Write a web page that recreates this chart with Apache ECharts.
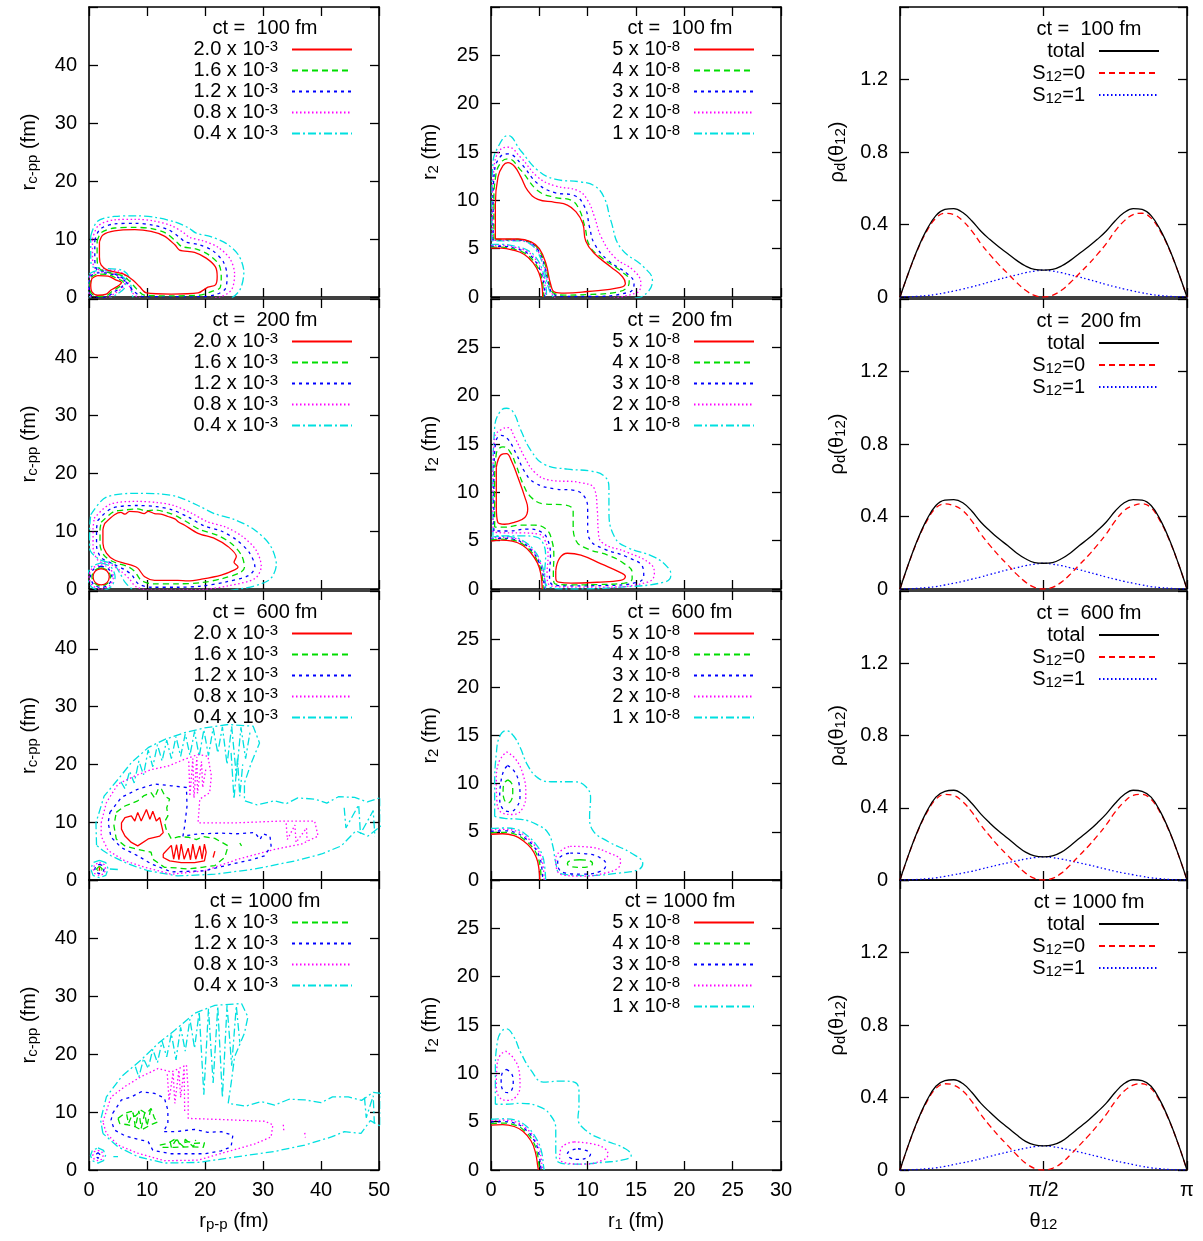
<!DOCTYPE html>
<html>
<head>
<meta charset="utf-8">
<script src="https://cdn.jsdelivr.net/npm/echarts@6/dist/echarts.min.js"></script>
<style>
html, body { margin: 0; padding: 0; background: #fff; }
#chart { width: 1203px; height: 1241px; }
</style>
</head>
<body>
<div id="chart"></div>
<script>
// ---------- data ----------
const timesFm = ['100', '200', '600', '1000'];
const levelsPP = ['2.0 x 10^-3', '1.6 x 10^-3', '1.2 x 10^-3', '0.8 x 10^-3', '0.4 x 10^-3'];
const levelsR = ['5 x 10^-8', '4 x 10^-8', '3 x 10^-8', '2 x 10^-8', '1 x 10^-8'];
const spinNames = ['total', 'S_12=0', 'S_12=1'];
const thetaTicks = [0, 90, 180];
const thetaTickLabels = ['0', 'π/2', 'π'];

// opening angle theta_12 in degrees
const thetaDeg = [0, 5.625, 11.25, 16.875, 22.5, 28.125, 33.75, 39.375, 45, 50.625, 56.25, 61.875, 67.5, 73.125, 78.75, 84.375, 90,
  95.625, 101.25, 106.875, 112.5, 118.125, 123.75, 129.375, 135, 140.625, 146.25, 151.875, 157.5, 163.125, 168.75, 174.375, 180];

const rhoTot100 = [0,0.141,0.269,0.373,0.449,0.483,0.488,0.466,0.421,0.364,0.318,0.277,0.24,0.202,0.171,0.152,0.148,0.152,0.171,0.202,0.24,0.277,0.318,0.364,0.421,0.466,0.488,0.483,0.449,0.373,0.269,0.141,0];
const rhoS0_100 = [0,0.14,0.265,0.365,0.435,0.462,0.455,0.42,0.365,0.295,0.235,0.18,0.13,0.08,0.037,0.009,0,0.009,0.037,0.08,0.13,0.18,0.235,0.295,0.365,0.42,0.455,0.462,0.435,0.365,0.265,0.14,0];
const rhoS1_100 = [0,0.001,0.004,0.008,0.014,0.023,0.033,0.044,0.056,0.069,0.083,0.097,0.11,0.122,0.134,0.143,0.148,0.143,0.134,0.122,0.11,0.097,0.083,0.069,0.056,0.044,0.033,0.023,0.014,0.008,0.004,0.001,0];

const rhoTot200 = [0,0.146,0.277,0.384,0.461,0.49,0.493,0.476,0.43,0.37,0.322,0.278,0.24,0.199,0.167,0.146,0.142,0.146,0.167,0.199,0.24,0.278,0.322,0.37,0.43,0.476,0.493,0.49,0.461,0.384,0.277,0.146,0];
const rhoS0_200 = [0,0.145,0.273,0.376,0.448,0.47,0.46,0.433,0.376,0.304,0.242,0.185,0.134,0.082,0.038,0.009,0,0.009,0.038,0.082,0.134,0.185,0.242,0.304,0.376,0.433,0.46,0.47,0.448,0.376,0.273,0.145,0];
const rhoS1_200 = [0,0.001,0.004,0.008,0.013,0.022,0.032,0.042,0.054,0.066,0.08,0.093,0.106,0.117,0.129,0.137,0.142,0.137,0.129,0.117,0.106,0.093,0.08,0.066,0.054,0.042,0.032,0.022,0.013,0.008,0.004,0.001,0];

const rhoTot600 = [0,0.146,0.275,0.381,0.459,0.491,0.497,0.473,0.425,0.366,0.316,0.271,0.231,0.19,0.154,0.133,0.128,0.133,0.154,0.19,0.231,0.271,0.316,0.366,0.425,0.473,0.497,0.491,0.459,0.381,0.275,0.146,0];
const rhoS0_600 = [0,0.145,0.272,0.374,0.447,0.474,0.468,0.433,0.377,0.306,0.244,0.187,0.136,0.084,0.038,0.009,0,0.009,0.038,0.084,0.136,0.187,0.244,0.306,0.377,0.433,0.468,0.474,0.447,0.374,0.272,0.145,0];
const rhoS1_600 = [0,0.001,0.003,0.007,0.012,0.02,0.029,0.038,0.048,0.06,0.072,0.084,0.095,0.106,0.116,0.124,0.128,0.124,0.116,0.106,0.095,0.084,0.072,0.06,0.048,0.038,0.029,0.02,0.012,0.007,0.003,0.001,0];

const rhoTot1000 = [0,0.147,0.277,0.384,0.462,0.493,0.498,0.477,0.429,0.369,0.32,0.275,0.235,0.194,0.158,0.138,0.133,0.138,0.158,0.194,0.235,0.275,0.32,0.369,0.429,0.477,0.498,0.493,0.462,0.384,0.277,0.147,0];
const rhoS0_1000 = [0,0.146,0.274,0.377,0.45,0.476,0.468,0.436,0.379,0.307,0.245,0.188,0.136,0.084,0.038,0.009,0,0.009,0.038,0.084,0.136,0.188,0.245,0.307,0.379,0.436,0.468,0.476,0.45,0.377,0.274,0.146,0];
const rhoS1_1000 = [0,0.001,0.003,0.007,0.012,0.02,0.03,0.04,0.05,0.062,0.075,0.087,0.099,0.11,0.12,0.129,0.133,0.129,0.12,0.11,0.099,0.087,0.075,0.062,0.05,0.04,0.03,0.02,0.012,0.007,0.003,0.001,0];

// Contours of the density in (r_p-p, r_c-pp), fm. Each piece is a flat x,y list.
const pp100_20 = [
  [1.8,9.5, 2.4,10.7, 4.4,11.4, 7.9,11.6, 10.7,11.3, 13.0,10.5, 14.8,9.0, 15.6,8.1, 18.2,7.7, 20.2,6.7, 21.8,5.2, 22.1,3.5, 21.8,2.1, 20.5,1.7, 18.8,0.7, 14.2,0.5, 9.9,0.7, 8.7,1.8, 7.6,2.9, 5.9,4.0, 3.3,4.6, 2.1,5.5, 1.8,6.9, 1.8,9.5],
  [0.5,3.2, 1.5,3.7, 3.3,3.6, 4.7,2.9, 5.6,2.5, 5.0,1.9, 3.8,1.2, 3.0,0.5, 1.5,0.3, 0.5,0.9, 0.3,2.1, 0.5,3.2]
];
const pp100_16 = [
  [1.4,9.6, 2.1,11.1, 4.4,11.9, 7.9,12.0, 10.8,11.8, 13.3,11.0, 15.0,9.6, 16.0,8.7, 18.4,8.3, 20.6,7.3, 22.4,5.6, 22.8,3.5, 22.6,1.6, 21.0,0.9, 19.0,0.3, 14.2,0.2, 9.6,0.3, 8.2,1.4, 7.2,2.5, 5.8,3.7, 3.2,4.25, 1.7,5.0, 1.4,6.9, 1.4,9.6],
  [0.35,3.4, 1.5,3.95, 3.4,3.85, 4.9,3.15, 5.9,2.6, 5.3,1.8, 4.0,1.0, 3.1,0.25, 1.4,0.1, 0.35,0.7, 0.15,2.1, 0.35,3.4]
];
const pp100_12 = [
  [1.0,9.8, 1.9,11.7, 4.4,12.6, 8.0,12.7, 11.0,12.4, 13.7,11.6, 15.6,10.3, 16.6,9.5, 19.0,9.0, 21.3,8.0, 23.2,6.0, 23.8,3.6, 23.5,1.4, 21.8,0.4, 19.0,0.05, 9.4,0.05, 7.8,0.9, 6.8,2.1, 5.6,3.4, 3.1,4.35, 1.3,4.8, 1.0,6.9, 1.0,9.8],
  [0.25,3.6, 1.5,4.15, 3.5,4.05, 5.1,3.35, 6.2,2.7, 5.6,1.7, 4.2,0.8, 3.2,0.05, 1.4,-0.1, 0.2,0.5, 0.05,2.1, 0.25,3.6]
];
const pp100_08 = [
  [0.6,10.0, 1.6,12.3, 4.4,13.3, 8.0,13.4, 11.2,13.1, 14.2,12.3, 16.3,11.1, 17.3,10.3, 19.6,9.7, 22.2,8.6, 24.3,6.6, 25.1,4.0, 24.6,1.3, 22.6,0.0, 19.0,-0.3, 9.2,-0.3, 7.6,0.6, 6.9,2.0, 6.3,3.6, 5.0,4.5, 3.0,4.65, 1.0,5.0, 0.6,6.9, 0.6,10.0],
  [0.15,3.8, 1.5,4.3, 3.6,4.2, 5.2,3.5, 6.2,2.6, 5.8,1.6, 4.4,0.6, 3.3,-0.1, 1.3,-0.3, 0.1,0.3, -0.05,2.1, 0.15,3.8]
];
const pp100_04 = [
  [0.3,10.5, 1.4,13.0, 4.4,13.9, 8.2,14.0, 11.6,13.7, 14.9,12.9, 17.2,11.9, 18.5,11.0, 21.0,10.4, 23.7,9.2, 25.8,7.2, 26.7,4.3, 26.0,1.2, 24.0,-0.3, 9.0,-0.3, 7.6,0.0, 7.3,1.5, 6.9,3.5, 5.8,4.6, 3.0,4.9, 0.6,5.2, 0.3,6.9, 0.3,10.5],
  [0.05,4.0, 1.5,4.55, 3.7,4.45, 5.4,3.7, 6.4,2.8, 6.1,1.5, 4.7,0.4, 3.4,-0.3, 1.2,-0.5, 0.0,0.2, -0.2,2.1, 0.05,4.0]
];

const pp200_20 = [
  [2.7,11.3, 4.4,12.8, 5.5,13.2, 6.2,12.9, 7.0,13.4, 8.4,13.3, 9.5,13.0, 10.2,13.4, 11.3,13.0, 12.4,12.9, 13.6,12.5, 14.8,12.1, 15.5,11.5, 16.5,11.0, 18.8,9.6, 21.7,8.7, 24.0,7.3, 25.4,5.6, 25.0,4.6, 25.7,3.8, 25.1,3.3, 22.8,2.4, 19.4,1.7, 17.0,1.4, 15.3,1.5, 11.3,1.5, 9.6,2.1, 8.4,3.6, 7.3,4.1, 4.4,5.0, 3.0,6.2, 2.4,7.9, 2.4,10.2, 2.7,11.3],
  [2.1,3.5, 3.1,3.1, 3.5,2.1, 3.1,1.1, 2.1,0.7, 1.1,1.1, 0.7,2.1, 1.1,3.1, 2.1,3.5]
];
const pp200_16 = [
  [2.1,11.5, 4.2,13.3, 6.0,13.6, 8.4,13.8, 9.8,13.5, 11.4,13.6, 13.8,13.1, 15.6,12.3, 16.8,11.6, 19.2,10.2, 22.1,9.3, 24.6,7.8, 26.3,5.8, 26.8,3.7, 26.0,2.8, 23.0,1.8, 19.4,1.1, 15.3,0.9, 11.0,0.9, 9.0,1.5, 7.9,3.0, 6.8,3.8, 4.2,4.7, 2.6,5.8, 1.9,7.7, 1.9,10.2, 2.1,11.5],
  [2.1,3.7, 3.2,3.2, 3.7,2.1, 3.2,1.0, 2.1,0.5, 1.0,1.0, 0.5,2.1, 1.0,3.2, 2.1,3.7]
];
const pp200_12 = [
  [1.5,11.8, 3.9,13.9, 8.4,14.4, 11.6,14.2, 14.2,13.7, 17.3,12.3, 19.8,10.9, 22.8,10.0, 25.5,8.4, 27.7,6.2, 28.6,3.8, 27.5,2.3, 23.5,1.2, 19.4,0.5, 15.3,0.3, 10.7,0.3, 8.5,0.9, 7.4,2.4, 6.2,3.3, 4.0,4.4, 2.1,5.4, 1.3,7.5, 1.3,10.2, 1.5,11.8],
  [2.1,3.95, 3.4,3.4, 3.95,2.1, 3.4,0.8, 2.1,0.25, 0.8,0.8, 0.25,2.1, 0.8,3.4, 2.1,3.95]
];
const pp200_08 = [
  [0.9,12.2, 3.6,14.6, 8.4,15.1, 11.8,14.9, 14.6,14.4, 17.8,13.0, 20.4,11.6, 23.5,10.7, 26.4,9.1, 28.8,6.7, 29.7,3.9, 28.6,1.8, 24.2,0.6, 19.4,-0.1, 10.5,-0.2, 8.1,0.4, 6.9,1.8, 5.6,3.0, 3.8,4.2, 1.6,4.9, 0.7,7.3, 0.7,10.2, 0.9,12.2],
  [2.1,4.2, 3.6,3.6, 4.2,2.1, 3.6,0.6, 2.1,0.0, 0.6,0.6, 0.0,2.1, 0.6,3.6, 2.1,4.2]
];
const pp200_04 = [
  [0.3,12.8, 2.9,15.8, 8.4,16.5, 12.2,16.4, 15.3,15.9, 18.8,14.4, 21.6,13.0, 25.0,12.0, 28.4,10.3, 31.2,7.6, 32.3,4.2, 31.0,1.5, 26.0,0.0, 20.0,-0.5, 10.0,-0.5, 7.6,-0.1, 6.2,1.2, 5.4,2.6, 4.3,4.2, 1.8,5.1, 0.1,7.0, 0.1,10.2, 0.3,12.8],
  [2.1,4.5, 3.8,3.8, 4.5,2.1, 3.8,0.4, 2.1,-0.3, 0.4,0.4, -0.3,2.1, 0.4,3.8, 2.1,4.5]
];

const pp600_20 = [
  [5.6,9.9, 6.2,10.8, 7.3,11.1, 7.9,10.2, 8.4,11.7, 9.0,10.2, 9.9,12.2, 10.5,10.5, 11.0,11.9, 11.6,10.2, 12.2,10.8, 12.8,8.2, 12.2,7.6, 10.2,7.1, 8.4,5.9, 7.3,6.5, 6.2,7.6, 5.6,8.8, 5.6,9.9],
  [12.8,4.5, 14.2,6.0, 14.6,3.6, 15.1,6.1, 15.5,3.5, 15.9,6.2, 16.4,3.6, 17.1,5.5, 17.5,3.5, 17.9,6.2, 18.4,3.6, 19.1,5.9, 19.5,3.6, 19.9,6.2, 20.2,4.8, 19.9,3.3, 18.2,3.0, 15.9,3.0, 13.9,3.3, 12.8,3.9, 12.8,4.5],
  [21.7,5.0, 21.4,3.9],
  [1.8,2.2, 2.1,1.9, 1.8,1.6, 1.5,1.9, 1.8,2.2]
];
const pp600_16 = [
  [4.7,11.7, 6.2,12.8, 8.4,13.7, 9.5,14.6, 10.7,15.1, 11.3,14.2, 12.0,15.9, 12.5,15.7, 13.1,14.5, 13.9,14.0, 13.4,12.5, 13.6,11.1, 13.0,10.0, 13.3,8.8, 14.2,7.1, 15.5,7.5, 17.1,7.4, 18.5,7.0, 19.7,7.5, 21.7,7.2, 24.0,5.9, 23.4,3.9, 21.7,2.5, 19.5,2.2, 17.1,1.9, 15.0,2.1, 13.0,2.2, 11.0,3.6, 10.7,4.8, 8.4,5.3, 6.2,5.9, 4.7,7.1, 4.3,9.4, 4.7,11.7],
  [26.0,6.4, 26.3,5.9],
  [1.8,2.4, 2.3,1.9, 1.8,1.4, 1.3,1.9, 1.8,2.4]
];
const pp600_12 = [
  [3.6,11.7, 5.6,14.3, 8.4,15.7, 11.3,16.6, 14.2,16.3, 16.8,16.0, 16.9,12.8, 16.5,9.4, 16.2,7.6, 19.0,8.0, 22.8,8.1, 25.5,8.0, 28.6,8.2, 29.5,7.0, 30.0,8.0, 31.2,7.6, 31.4,5.9, 30.3,4.2, 28.0,3.5, 25.7,3.0, 22.8,2.3, 19.9,1.6, 14.2,1.4, 10.7,2.8, 8.4,4.2, 5.6,5.6, 3.8,7.4, 3.3,9.9, 3.6,11.7],
  [1.8,2.7, 2.4,2.5, 2.6,1.9, 2.4,1.3, 1.8,1.1, 1.2,1.3, 1.0,1.9, 1.2,2.5, 1.8,2.7]
];
const pp600_08 = [
  [2.1,9.9, 3.0,13.4, 5.0,16.6, 7.9,18.0, 10.7,19.1, 13.6,19.7, 16.5,20.9, 18.8,21.7, 20.5,21.4, 21.1,18.0, 20.8,15.1, 19.1,14.0, 18.8,9.9, 25.7,9.9, 33.2,10.2, 38.9,10.2, 39.5,7.6, 36.6,6.2, 32.0,5.3, 25.7,3.6, 19.9,1.6, 14.2,1.0, 9.6,2.2, 6.2,3.3, 3.3,5.1, 2.1,7.6, 2.1,9.9],
  [17.2,20.5, 17.4,14.5, 17.9,21.0, 18.1,14.2, 18.6,21.3, 18.7,15.0, 19.4,20.5, 19.6,16.0, 20.2,19.5],
  [34.0,9.8, 34.2,7.0, 35.5,9.5, 35.7,6.5, 37.5,9.0, 37.6,6.8],
  [1.8,3.0, 2.6,2.7, 2.9,1.9, 2.6,1.1, 1.8,0.8, 1.0,1.1, 0.7,1.9, 1.0,2.7, 1.8,3.0]
];
const pp600_04 = [
  [1.3,6.0, 1.2,9.9, 2.6,14.5, 5.0,17.4, 7.3,20.3, 10.2,22.9, 13.0,24.3, 16.5,25.5, 19.9,26.3, 24.0,26.9, 28.3,26.6, 29.4,23.7, 28.0,20.3, 26.8,16.8, 26.8,13.7, 29.0,13.0, 32.0,13.7, 34.0,13.2, 36.0,14.2, 38.9,14.0, 41.0,13.3, 43.0,14.4, 45.8,14.3, 48.0,13.5, 50.4,14.3, 50.4,9.4, 48.1,7.6, 46.0,8.5, 43.5,5.9, 40.1,4.5, 35.5,3.3, 28.6,1.9, 21.7,1.0, 15.3,0.7, 10.2,1.6, 6.7,2.8, 3.8,4.2, 2.4,5.1, 1.3,6.0],
  [5.5,17.0, 6.2,15.8, 7.0,18.8, 7.8,16.8, 8.6,20.6, 9.4,18.2, 10.2,22.5, 11.0,19.6, 11.8,23.4, 12.6,20.6, 13.4,24.2, 14.2,21.0, 15.0,24.8, 15.8,21.4, 16.6,25.3, 17.4,21.6, 18.2,25.7, 19.0,21.4, 19.8,26.0, 20.6,21.5, 21.4,26.3, 22.2,22.0, 23.0,26.5, 23.8,20.0, 24.6,26.6, 25.4,18.0, 26.2,26.4, 27.0,21.0, 27.8,25.8],
  [24.5,22.0, 25.0,14.0, 25.6,21.0, 26.0,14.5, 26.5,20.0],
  [44.0,12.5, 44.3,9.0, 46.5,13.0, 46.8,8.0, 49.0,12.0, 49.3,7.5],
  [1.8,3.4, 2.9,3.0, 3.3,1.9, 2.9,0.8, 1.8,0.4, 0.7,0.8, 0.3,1.9, 0.7,3.0, 1.8,3.4],
  [3.6,1.9, 5.2,1.8]
];

const pp1000_16 = [
  [5.0,8.9, 6.2,9.8, 7.3,10.1, 7.9,9.2, 9.0,10.3, 9.9,9.7, 10.7,10.6, 11.3,8.9, 11.9,8.3, 10.7,7.8, 9.0,6.9, 7.9,7.5, 6.7,7.8, 5.3,8.0, 5.0,8.9],
  [6.5,9.6, 6.8,8.0, 7.6,9.9, 8.0,7.4, 8.6,10.2, 9.0,7.2, 9.6,9.8, 10.0,7.6, 10.6,10.3],
  [12.2,4.3, 13.6,4.6, 15.1,5.5, 15.6,4.5, 17.1,4.9, 18.2,4.6, 19.9,4.7, 19.7,3.9, 17.1,4.0, 14.8,3.9, 12.8,3.9, 12.2,4.3],
  [14.0,4.9, 14.2,3.9, 15.0,5.2, 16.3,4.0, 16.6,5.3, 18.0,4.0, 18.4,5.2]
];
const pp1000_12 = [
  [4.1,9.8, 5.6,12.1, 7.3,12.6, 9.0,13.5, 11.3,13.2, 13.0,12.4, 13.6,10.3, 13.6,8.0, 12.8,6.6, 14.8,6.6, 18.2,7.0, 20.5,6.5, 22.8,6.6, 24.8,6.0, 24.5,4.0, 22.8,3.3, 19.9,2.8, 14.2,2.8, 11.0,3.4, 10.2,4.9, 8.4,5.3, 6.2,5.9, 4.4,6.9, 3.8,8.6, 4.1,9.8],
  [1.55,3.0, 2.05,2.5, 1.55,2.0, 1.05,2.5, 1.55,3.0]
];
const pp1000_08 = [
  [2.4,8.3, 3.8,12.6, 6.2,14.4, 9.0,16.1, 11.9,17.5, 14.2,16.9, 16.8,18.1, 17.1,13.8, 17.1,8.9, 22.8,8.7, 30.3,8.4, 31.7,7.8, 31.4,5.7, 28.6,4.5, 24.0,3.2, 18.8,1.7, 13.0,1.6, 8.4,2.9, 5.0,4.3, 3.0,6.3, 2.4,8.3],
  [13.5,16.5, 13.8,12.0, 14.5,16.8, 14.8,11.5, 15.5,17.2, 15.8,12.5, 16.4,17.5, 16.5,10.0],
  [33.5,7.8, 33.6,6.6],
  [37.2,6.4, 37.3,5.6],
  [1.55,3.4, 2.2,3.15, 2.45,2.5, 2.2,1.85, 1.55,1.6, 0.9,1.85, 0.65,2.5, 0.9,3.15, 1.55,3.4]
];
const pp1000_04 = [
  [2.4,6.3, 2.0,8.6, 3.0,12.6, 5.6,16.1, 9.0,19.0, 11.9,21.8, 14.8,24.1, 18.2,27.0, 21.7,28.4, 26.3,28.7, 27.4,26.4, 26.8,23.6, 25.1,19.5, 24.5,14.9, 24.0,11.5, 27.0,11.0, 29.7,11.8, 32.0,11.2, 34.5,12.2, 37.2,12.1, 40.0,11.6, 42.0,12.6, 44.7,12.6, 47.0,12.0, 49.0,13.4, 50.4,13.2, 50.4,7.5, 48.5,8.5, 46.9,6.3, 44.0,6.6, 41.8,5.7, 37.2,4.3, 32.0,3.2, 25.7,2.3, 18.8,1.3, 13.0,1.2, 8.4,2.3, 5.0,4.0, 2.4,6.3],
  [8.0,17.8, 8.6,16.0, 9.4,19.2, 10.2,17.5, 11.0,20.8, 11.8,18.5, 12.6,22.2, 13.4,19.5, 14.2,23.5, 15.0,19.0, 15.8,24.6, 16.6,20.5, 17.4,26.0, 18.2,21.0, 19.0,27.3, 19.8,13.0, 20.6,27.8, 21.4,15.0, 22.2,28.2, 23.0,12.5, 23.8,28.4, 24.6,18.0, 25.4,28.3, 26.0,22.0],
  [47.5,12.5, 47.8,9.0, 49.0,12.8, 49.2,8.0],
  [1.55,3.8, 2.5,3.4, 2.85,2.5, 2.5,1.6, 1.55,1.2, 0.6,1.6, 0.25,2.5, 0.6,3.4, 1.55,3.8],
  [4.2,2.3, 5.0,2.3]
];

// Contours of the density in (r_1, r_2), fm.
const rr100_5 = [
  [0.45,6.0, 0.45,9.6, 0.72,12.4, 1.24,13.6, 1.75,13.9, 2.44,13.5, 3.1,12.4, 3.8,11.0, 4.85,10.1, 6.6,9.8, 7.9,9.5, 8.8,8.8, 9.5,7.6, 9.8,5.8, 10.7,4.5, 12.4,3.1, 13.6,2.1, 13.9,1.4, 13.4,1.0, 10.0,0.57, 7.6,0.4, 6.6,0.5, 6.15,1.4, 5.7,3.4, 5.0,5.0, 4.15,5.7, 2.8,6.0, 1.4,6.0, 0.45,6.0],
  [0,5.05, 1.06,5.05, 2.3,4.85, 3.45,4.4, 4.35,3.55, 4.95,2.5, 5.25,1.35, 5.35,0]
];
const rr100_4 = [
  [0.3,5.95, 0.3,9.6, 0.5,12.6, 1.1,14.0, 1.75,14.3, 3.1,13.1, 4.85,11.0, 6.6,10.3, 8.3,10.0, 9.1,9.1, 9.7,7.3, 10.2,5.3, 11.4,4.1, 13.4,2.7, 14.3,1.7, 14.1,1.0, 13.0,0.5, 10.0,0.25, 7.6,0.2, 6.5,0.4, 6.05,1.38, 5.6,3.37, 4.9,4.95, 4.1,5.65, 2.8,5.95, 1.4,5.95, 0.3,5.95],
  [0,5.15, 1.1,5.15, 2.35,4.95, 3.55,4.5, 4.45,3.65, 5.05,2.55, 5.35,1.35, 5.45,0]
];
const rr100_3 = [
  [0.22,5.9, 0.22,9.6, 0.35,12.9, 0.95,14.5, 1.75,14.8, 3.1,13.8, 4.85,11.7, 6.6,10.8, 8.6,10.5, 9.7,9.3, 10.2,7.2, 10.7,5.5, 12.1,3.8, 14.1,2.4, 14.8,1.4, 14.3,0.5, 10.0,0.05, 7.6,0.05, 6.45,0.3, 5.98,1.35, 5.53,3.33, 4.85,4.9, 4.05,5.62, 2.8,5.9, 1.4,5.9, 0.22,5.9],
  [0,5.25, 1.1,5.25, 2.4,5.05, 3.65,4.6, 4.55,3.75, 5.15,2.6, 5.45,1.38, 5.55,0]
];
const rr100_2 = [
  [0.15,5.85, 0.15,9.6, 0.3,13.3, 0.85,15.1, 1.75,15.5, 3.1,14.4, 4.85,12.4, 6.6,11.5, 9.0,11.0, 10.0,10.0, 10.7,8.3, 11.4,6.2, 12.8,4.1, 14.8,2.7, 15.5,1.4, 15.0,0.4, 10.0,-0.2, 7.0,-0.2, 6.38,0.25, 5.92,1.33, 5.47,3.3, 4.8,4.83, 4.0,5.58, 2.8,5.85, 1.4,5.85, 0.15,5.85],
  [0,5.35, 1.1,5.35, 2.45,5.15, 3.75,4.7, 4.65,3.85, 5.25,2.65, 5.55,1.4, 5.65,0]
];
const rr100_1 = [
  [0.1,5.8, 0.1,9.6, 0.2,13.8, 0.72,15.5, 1.75,16.7, 3.1,15.1, 4.85,13.1, 6.6,12.2, 9.3,11.9, 10.7,11.5, 11.7,10.3, 12.4,7.9, 13.4,5.1, 15.8,3.1, 16.7,1.7, 16.2,0.5, 15.0,-0.1, 10.0,-0.4, 7.0,-0.3, 6.3,0.2, 5.85,1.3, 5.4,3.25, 4.75,4.75, 3.95,5.55, 2.8,5.8, 1.4,5.8, 0.1,5.8],
  [0,5.45, 1.1,5.45, 2.5,5.25, 3.85,4.8, 4.75,3.95, 5.35,2.7, 5.65,1.42, 5.75,0]
];

const rr200_5 = [
  [0.55,12.6, 1.06,13.9, 1.6,14.0, 2.1,13.3, 2.8,11.5, 3.5,9.5, 3.8,8.3, 3.5,7.4, 2.4,6.9, 1.4,6.7, 0.7,6.9, 0.55,8.5, 0.55,10.9, 0.55,12.6],
  [6.7,1.9, 7.1,3.2, 7.9,3.7, 9.3,3.5, 11.4,2.6, 13.4,1.7, 13.9,1.3, 13.4,0.9, 11.0,0.7, 8.3,0.6, 7.0,0.7, 6.7,1.2, 6.7,1.9],
  [0,4.95, 1.0,5.05, 2.2,4.95, 3.3,4.5, 4.15,3.7, 4.8,2.7, 5.15,1.6, 5.3,0]
];
const rr200_4 = [
  [0.38,6.4, 0.38,10.9, 0.55,14.0, 1.24,14.7, 1.9,14.3, 2.6,12.8, 3.3,10.9, 4.15,9.5, 5.5,8.8, 7.6,8.7, 8.5,8.1, 8.5,6.7, 8.8,5.0, 10.0,4.15, 12.1,3.5, 13.8,2.6, 14.6,1.7, 14.6,1.05, 13.8,0.6, 11.0,0.46, 8.3,0.43, 6.6,0.54, 6.45,1.6, 6.5,3.3, 6.3,5.0, 5.7,6.2, 4.5,6.6, 3.1,6.6, 1.4,6.4, 0.38,6.4],
  [0,5.05, 1.0,5.15, 2.25,5.05, 3.38,4.58, 4.23,3.78, 4.88,2.75, 5.25,1.6, 5.4,0]
];
const rr200_3 = [
  [0.3,6.0, 0.3,10.9, 0.45,15.0, 1.06,15.9, 1.75,15.5, 2.6,14.0, 3.5,12.1, 4.5,11.0, 6.6,10.35, 8.6,10.2, 9.7,9.5, 10.0,8.1, 10.0,6.4, 10.3,5.0, 11.7,4.15, 14.1,3.3, 15.7,2.25, 15.8,1.4, 15.2,0.7, 11.7,0.36, 8.3,0.33, 6.4,0.43, 6.05,1.6, 6.15,3.3, 5.9,5.0, 5.2,5.9, 3.8,6.2, 1.75,6.0, 0.3,6.0],
  [0,5.15, 1.0,5.25, 2.3,5.15, 3.45,4.65, 4.3,3.85, 4.95,2.8, 5.35,1.6, 5.5,0]
];
const rr200_2 = [
  [0.2,5.9, 0.2,10.9, 0.38,15.7, 1.06,16.5, 1.75,16.7, 2.44,15.7, 3.5,13.6, 4.5,12.1, 5.9,11.3, 9.3,11.0, 10.7,10.35, 11.0,8.1, 11.1,6.0, 11.5,4.8, 14.1,3.8, 16.5,2.6, 16.9,1.6, 16.2,0.7, 11.7,0.2, 8.3,0.2, 6.2,0.33, 5.8,1.6, 5.9,3.3, 5.6,5.0, 4.85,5.7, 3.1,5.8, 1.4,5.8, 0.2,5.9],
  [0,5.25, 1.0,5.35, 2.35,5.25, 3.52,4.72, 4.38,3.92, 5.03,2.85, 5.45,1.6, 5.6,0]
];
const rr200_1 = [
  [0.2,5.5, 0.2,10.9, 0.38,16.7, 0.9,18.3, 1.6,18.7, 2.3,18.3, 3.1,16.4, 4.15,14.3, 5.5,12.9, 7.9,12.4, 10.3,12.2, 11.7,11.7, 12.2,10.5, 12.2,8.1, 12.8,5.35, 14.1,4.3, 16.9,3.3, 18.4,2.1, 18.6,1.4, 17.9,0.7, 13.4,0.2, 8.3,0.0, 6.0,0.2, 5.55,1.6, 5.65,3.3, 5.35,4.8, 4.6,5.4, 3.1,5.5, 1.4,5.5, 0.2,5.5],
  [0,5.35, 1.0,5.45, 2.4,5.35, 3.6,4.8, 4.45,4.0, 5.1,2.9, 5.5,1.6, 5.65,0]
];

const rr600_5 = [
  [0,4.75, 1.2,4.8, 2.4,4.6, 3.3,4.1, 4.15,3.3, 4.7,2.3, 4.95,1.2, 5.05,0]
];
const rr600_4 = [
  [1.75,10.4, 2.15,10.0, 2.25,9.2, 2.15,8.4, 1.75,8.0, 1.35,8.4, 1.25,9.2, 1.35,10.0, 1.75,10.4],
  [9.2,2.1, 10.2,2.0, 10.5,1.7, 10.2,1.4, 9.2,1.3, 8.2,1.4, 7.9,1.7, 8.2,2.0, 9.2,2.1],
  [0,4.9, 1.25,4.95, 2.5,4.75, 3.4,4.23, 4.28,3.4, 4.85,2.38, 5.1,1.25, 5.2,0]
];
const rr600_3 = [
  [1.7,11.9, 2.4,11.3, 2.9,10.0, 3.0,8.7, 2.6,7.5, 1.9,7.1, 1.2,7.4, 0.9,8.6, 1.0,10.0, 1.3,11.3, 1.7,11.9],
  [8.2,2.8, 10.0,2.7, 11.3,2.3, 11.9,1.6, 11.3,0.9, 9.5,0.6, 7.8,0.7, 7.0,1.2, 6.9,1.9, 7.3,2.5, 8.2,2.8],
  [0,5.05, 1.3,5.1, 2.6,4.9, 3.5,4.35, 4.4,3.5, 5.0,2.45, 5.25,1.3, 5.35,0]
];
const rr600_2 = [
  [1.6,13.3, 2.5,12.6, 3.3,11.0, 3.6,9.0, 3.3,7.5, 2.3,6.8, 1.1,7.0, 0.6,8.3, 0.55,10.3, 0.8,12.2, 1.6,13.3],
  [8.2,3.5, 10.3,3.4, 12.2,2.8, 13.4,2.0, 13.2,1.3, 11.7,0.7, 9.5,0.4, 7.5,0.5, 6.8,1.1, 6.7,2.2, 7.3,3.1, 8.2,3.5],
  [0,5.2, 1.35,5.25, 2.7,5.05, 3.6,4.5, 4.5,3.6, 5.15,2.5, 5.4,1.35, 5.5,0]
];
const rr600_1 = [
  [0.38,6.6, 0.38,9.7, 0.55,13.1, 0.9,14.9, 1.6,15.5, 2.3,15.0, 3.0,13.8, 3.8,11.9, 4.85,10.6, 6.2,10.2, 8.6,10.2, 9.8,9.7, 10.3,8.5, 10.2,6.6, 10.5,5.2, 12.1,4.0, 14.5,2.8, 15.7,1.7, 15.3,1.1, 13.4,0.74, 10.0,0.46, 7.2,0.67, 6.7,1.8, 6.4,3.5, 5.9,4.9, 4.85,5.7, 3.1,6.3, 1.4,6.4, 0.38,6.6],
  [0,5.35, 1.4,5.4, 2.8,5.2, 3.7,4.65, 4.65,3.7, 5.3,2.6, 5.55,1.4, 5.65,0]
];

const rr1000_5 = [
  [0,4.65, 1.2,4.7, 2.4,4.5, 3.3,4.0, 4.15,3.0, 4.6,1.8, 4.85,0.3, 4.9,0]
];
const rr1000_4 = [
  [0,4.8, 1.2,4.85, 2.5,4.65, 3.4,4.12, 4.27,3.1, 4.75,1.85, 5.0,0.3, 5.05,0]
];
const rr1000_3 = [
  [1.6,10.4, 2.1,10.0, 2.3,9.2, 2.2,8.4, 1.7,8.0, 1.2,8.3, 1.05,9.2, 1.15,10.0, 1.6,10.4],
  [9.0,2.2, 9.9,2.0, 10.3,1.65, 9.9,1.25, 9.0,1.1, 8.2,1.25, 7.9,1.65, 8.2,2.0, 9.0,2.2],
  [0,4.95, 1.25,5.0, 2.55,4.8, 3.5,4.25, 4.4,3.2, 4.9,1.9, 5.15,0.3, 5.2,0]
];
const rr1000_2 = [
  [1.5,12.3, 2.3,11.6, 2.9,10.3, 3.0,8.8, 2.6,7.6, 1.7,7.2, 0.9,7.5, 0.55,8.7, 0.6,10.5, 0.9,11.8, 1.5,12.3],
  [8.6,2.9, 10.5,2.7, 11.8,2.2, 12.1,1.6, 11.5,1.0, 9.6,0.6, 7.9,0.7, 7.1,1.2, 7.2,2.1, 7.8,2.7, 8.6,2.9],
  [0,5.1, 1.3,5.15, 2.6,4.95, 3.6,4.35, 4.5,3.3, 5.05,1.95, 5.3,0.3, 5.35,0]
];
const rr1000_1 = [
  [0.45,6.8, 0.45,10.1, 0.65,13.2, 1.06,14.3, 1.6,14.6, 2.3,13.9, 3.1,12.1, 4.15,10.3, 5.4,9.1, 7.25,9.2, 8.6,9.1, 9.1,8.2, 9.1,6.6, 9.0,5.4, 9.8,4.1, 11.7,3.1, 13.9,2.2, 14.5,1.5, 13.9,1.1, 11.7,0.8, 8.6,0.6, 7.0,0.8, 6.7,2.2, 6.7,4.2, 6.05,5.8, 4.85,6.6, 3.1,6.9, 1.4,6.8, 0.45,6.8],
  [0,5.25, 1.35,5.3, 2.7,5.1, 3.7,4.5, 4.6,3.4, 5.2,2.0, 5.45,0.3, 5.5,0]
];

// ---------- layout and styles ----------
const FONT = '"Liberation Sans", Arial, Helvetica, sans-serif';
const FS = 20;
const colLeft = [89, 491, 900];
const colWidth = [290, 290, 287];
const rowTop = [7, 299, 591, 880];
const rowHeight = [290, 290, 289, 290];
const keyRightEdge = [353, 755, 1160];
const keyTopOffset = [32, 32, 33];
const keyLineHeight = [21, 21, 22];
const titleCenter = [265, 680, 1089];
const titleOffset = [21, 21, 22];
const axisSpec = [
  { x: [0, 50, 10], y: [0, 50, 10] },
  { x: [0, 30, 5], y: [0, 30, 5] },
  { x: [0, 180, 90], y: [0, 1.6, 0.4] }
];
const xNames = ['r{sb|p-p} (fm)', 'r{sb|1} (fm)', 'θ{sb|12}'];
const yNames = ['r{sb|c-pp} (fm)', 'r{sb|2} (fm)', 'ρ{sb|d}(θ{sb|12})'];
const yNameGap = [49, 50, 52];
const levelColor = ['#ff0000', '#00dd00', '#0000ff', '#ff00ff', '#00e0e0'];
const levelDash = ['solid', [6, 4], [3, 4], [1.5, 2.5], [8, 3, 2, 3]];
const spinColor = ['#000000', '#ff0000', '#0000ff'];
const spinDash = ['solid', [6, 4], [1.5, 2.5]];

const ppByTime = [
  [pp100_20, pp100_16, pp100_12, pp100_08, pp100_04],
  [pp200_20, pp200_16, pp200_12, pp200_08, pp200_04],
  [pp600_20, pp600_16, pp600_12, pp600_08, pp600_04],
  [null, pp1000_16, pp1000_12, pp1000_08, pp1000_04]
];
const rrByTime = [
  [rr100_5, rr100_4, rr100_3, rr100_2, rr100_1],
  [rr200_5, rr200_4, rr200_3, rr200_2, rr200_1],
  [rr600_5, rr600_4, rr600_3, rr600_2, rr600_1],
  [rr1000_5, rr1000_4, rr1000_3, rr1000_2, rr1000_1]
];
const rhoByTime = [
  [rhoTot100, rhoS0_100, rhoS1_100],
  [rhoTot200, rhoS0_200, rhoS1_200],
  [rhoTot600, rhoS0_600, rhoS1_600],
  [rhoTot1000, rhoS0_1000, rhoS1_1000]
];

function pairs(flat) {
  const out = [];
  for (let i = 0; i + 1 < flat.length; i += 2) out.push([flat[i], flat[i + 1]]);
  return out;
}
function keyLabel(name) {
  return name.replace(/\^(-?\d+)/, '{sp|$1}').replace(/_(\d+)/, '{sb|$1}');
}
const smallRich = {
  sp: { fontSize: 15, fontFamily: FONT, color: '#000', lineHeight: 4, verticalAlign: 'top' },
  sb: { fontSize: 15, fontFamily: FONT, color: '#000', lineHeight: 5, verticalAlign: 'bottom' }
};
const nameStyle = {
  color: '#000', fontSize: FS, fontFamily: FONT, lineHeight: 22,
  rich: { sb: { fontSize: 15, fontFamily: FONT, color: '#000', lineHeight: 5, verticalAlign: 'bottom' } }
};
const tickLabel = { color: '#000', fontSize: FS, fontFamily: FONT };

function xFormatter(c) {
  if (c === 2) return function (v) { const i = thetaTicks.indexOf(v); return i < 0 ? '' : thetaTickLabels[i]; };
  return function (v) { return String(v); };
}
function yFormatter(c) {
  const top = axisSpec[c].y[1];
  return function (v) {
    if (v >= top - 1e-9) return '';
    return c === 2 ? (v === 0 ? '0' : Number(v).toFixed(1)) : String(v);
  };
}

const grids = [], xAxes = [], yAxes = [], series = [], legends = [], graphics = [];

for (let r = 0; r < 4; r++) {
  for (let c = 0; c < 3; c++) {
    const g = r * 3 + c;
    grids.push({ left: colLeft[c], top: rowTop[r], width: colWidth[c], height: rowHeight[r], containLabel: false, outerBoundsMode: 'none' });
    const sx = axisSpec[c].x, sy = axisSpec[c].y;
    const line = { show: true, onZero: false, lineStyle: { color: '#000', width: 1.6 } };
    const tick = { show: true, inside: true, length: 9, lineStyle: { color: '#000', width: 1.3 } };
    const bottomRow = r === 3;
    xAxes.push({
      type: 'value', gridIndex: g, position: 'bottom', min: sx[0], max: sx[1], interval: sx[2],
      axisLine: line, axisTick: tick, splitLine: { show: false }, minorTick: { show: false },
      axisLabel: bottomRow ? Object.assign({ margin: 10, formatter: xFormatter(c), showMinLabel: true, showMaxLabel: true }, tickLabel) : { show: false },
      name: bottomRow ? xNames[c] : '', nameLocation: 'middle', nameGap: 40, nameTextStyle: nameStyle, nameMoveOverlap: false
    });
    xAxes.push({
      type: 'value', gridIndex: g, position: 'top', min: sx[0], max: sx[1], interval: sx[2],
      axisLine: line, axisTick: tick, splitLine: { show: false }, axisLabel: { show: false }
    });
    yAxes.push({
      type: 'value', gridIndex: g, position: 'left', min: sy[0], max: sy[1], interval: sy[2],
      axisLine: line, axisTick: tick, splitLine: { show: false },
      axisLabel: Object.assign({ margin: 12, formatter: yFormatter(c), showMinLabel: true, showMaxLabel: true }, tickLabel),
      name: yNames[c], nameLocation: 'middle', nameGap: yNameGap[c], nameRotate: 90, nameTextStyle: nameStyle, nameMoveOverlap: false
    });
    yAxes.push({
      type: 'value', gridIndex: g, position: 'right', min: sy[0], max: sy[1], interval: sy[2],
      axisLine: line, axisTick: tick, splitLine: { show: false }, axisLabel: { show: false }
    });

    // panel series
    let keyNames = [];
    if (c < 2) {
      const sets = c === 0 ? ppByTime[r] : rrByTime[r];
      const names = c === 0 ? levelsPP : levelsR;
      const smooth = c === 1 ? 0.45 : (r < 2 ? 0.3 : false);
      sets.forEach(function (pieces, li) {
        if (!pieces) return;
        keyNames.push(names[li]);
        pieces.forEach(function (piece) {
          series.push({
            type: 'line', name: names[li], xAxisIndex: 2 * g, yAxisIndex: 2 * g,
            data: pairs(piece), symbol: 'none', showSymbol: false, smooth: smooth, silent: true, clip: true,
            lineStyle: { color: levelColor[li], width: 1.3, type: levelDash[li] },
            itemStyle: { color: levelColor[li] }, z: 10 - li
          });
        });
      });
    } else {
      rhoByTime[r].forEach(function (vals, si) {
        keyNames.push(spinNames[si]);
        series.push({
          type: 'line', name: spinNames[si], xAxisIndex: 2 * g, yAxisIndex: 2 * g,
          data: thetaDeg.map(function (t, i) { return [t, vals[i]]; }),
          symbol: 'none', showSymbol: false, smooth: 0.4, silent: true, clip: true,
          lineStyle: { color: spinColor[si], width: 1.3, type: spinDash[si] },
          itemStyle: { color: spinColor[si] }, z: 10 - si
        });
      });
    }

    legends.push({
      orient: 'vertical', align: 'right',
      right: 1203 - keyRightEdge[c], top: rowTop[r] + keyTopOffset[c],
      itemWidth: 60, itemHeight: 14, itemGap: 0, padding: 0, selectedMode: false,
      itemStyle: { opacity: 0 },
      data: keyNames,
      formatter: keyLabel,
      textStyle: { color: '#000', fontSize: FS, fontFamily: FONT, lineHeight: keyLineHeight[c], padding: [0, 9, 0, 0], rich: smallRich }
    });

    graphics.push({
      type: 'text', x: titleCenter[c], y: rowTop[r] + titleOffset[c], silent: true,
      style: {
        text: 'ct = ' + timesFm[r].padStart(4, ' ') + ' fm',
        fontSize: FS, fontFamily: FONT, fill: '#000',
        align: 'center', verticalAlign: 'middle', textAlign: 'center', textVerticalAlign: 'middle'
      }
    });
  }
}

const chart = echarts.init(document.getElementById('chart'), null, { renderer: 'canvas' });
chart.setOption({
  animation: false,
  backgroundColor: '#ffffff',
  grid: grids,
  xAxis: xAxes,
  yAxis: yAxes,
  legend: legends,
  graphic: graphics,
  series: series
});
</script>
</body>
</html>
